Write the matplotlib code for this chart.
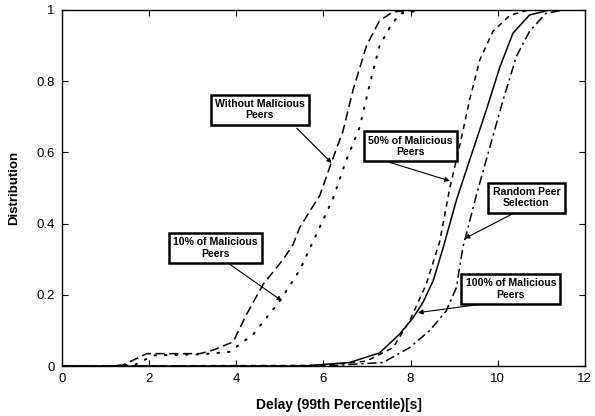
import matplotlib.pyplot as plt

plt.rcParams['font.family'] = ['Liberation Sans', 'DejaVu Sans']

# delay CDF curves (x in seconds, y = distribution)
no_mal_x = [0, 1.0, 1.4, 1.95, 3.17, 3.47, 3.93, 4.24, 4.62, 5.08, 5.3, 5.46, 5.92, 6.18, 6.45, 6.68, 6.99, 7.29, 7.6, 8.2, 12]
no_mal_y = [0, 0, 0.003, 0.035, 0.035, 0.045, 0.068, 0.146, 0.23, 0.30, 0.34, 0.39, 0.48, 0.57, 0.66, 0.775, 0.90, 0.97, 0.995, 1, 1]

mal10_x = [0, 1.2, 1.7, 2.1, 3.2, 3.85, 4.39, 5.0, 5.46, 5.84, 6.22, 6.5, 6.83, 7.06, 7.29, 7.52, 7.75, 8.3, 12]
mal10_y = [0, 0, 0.005, 0.03, 0.033, 0.04, 0.089, 0.183, 0.27, 0.37, 0.47, 0.57, 0.67, 0.79, 0.90, 0.95, 0.99, 1, 1]

mal50_x = [0, 6.0, 6.99, 7.6, 7.98, 8.36, 8.67, 8.9, 9.13, 9.36, 9.59, 9.89, 10.28, 10.7, 12]
mal50_y = [0, 0.002, 0.014, 0.052, 0.127, 0.23, 0.35, 0.50, 0.62, 0.75, 0.86, 0.94, 0.985, 1, 1]

mal100_x = [0, 5.5, 6.6, 7.29, 7.75, 8.06, 8.29, 8.52, 8.75, 9.05, 9.36, 9.74, 10.05, 10.35, 10.73, 11.2, 12]
mal100_y = [0, 0, 0.01, 0.037, 0.09, 0.136, 0.18, 0.24, 0.333, 0.465, 0.58, 0.72, 0.84, 0.935, 0.986, 1, 1]

rand_x = [0, 6.0, 7.37, 7.98, 8.44, 8.82, 9.05, 9.2, 9.51, 9.82, 10.12, 10.43, 10.73, 11.1, 11.5, 12]
rand_y = [0, 0, 0.01, 0.052, 0.10, 0.155, 0.22, 0.333, 0.48, 0.615, 0.746, 0.87, 0.94, 0.99, 1, 1]

# label text, box centre, arrow tip
notes = [
    ('Without Malicious\nPeers', (4.54, 0.72), (6.19, 0.57)),
    ('10% of Malicious\nPeers', (3.52, 0.332), (5.05, 0.183)),
    ('50% of Malicious\nPeers', (8.0, 0.617), (8.9, 0.52)),
    ('Random Peer\nSelection', (10.66, 0.473), (9.24, 0.358)),
    ('100% of Malicious\nPeers', (10.3, 0.217), (8.17, 0.15)),
]
arrow_tails = [(5.39, 0.668), (3.85, 0.286), (7.52, 0.572), (10.41, 0.432), (9.82, 0.177)]

fig = plt.figure(figsize=(5.95, 4.16), dpi=100)
ax = fig.add_axes([0.104, 0.12, 0.879, 0.856])

lw = 1.1
ax.plot(no_mal_x, no_mal_y, color='black', lw=lw, dashes=(6, 3))
ax.plot(mal10_x, mal10_y, color='black', lw=lw * 1.3, dashes=(0.8, 4.5), dash_capstyle='round')
ax.plot(mal50_x, mal50_y, color='black', lw=lw, dashes=(3.5, 3))
ax.plot(mal100_x, mal100_y, color='black', lw=lw)
ax.plot(rand_x, rand_y, color='black', lw=lw, dashes=(6, 2.5, 1.5, 2.5))

for (text, box, tip), tail in zip(notes, arrow_tails):
    ax.annotate('', xy=tip, xytext=tail,
                arrowprops=dict(arrowstyle='-|>', color='black', lw=0.8,
                                mutation_scale=7, shrinkA=0, shrinkB=0))
    ax.text(box[0], box[1], text, ha='center', va='center', fontsize=7.6,
            fontweight='bold', linespacing=1.2,
            bbox=dict(boxstyle='square,pad=0.4', fc='white', ec='black', lw=1.8))

ax.set_xlim(0, 12)
ax.set_ylim(0, 1)
ax.set_xticks([0, 2, 4, 6, 8, 10, 12])
ax.set_yticks([0, 0.2, 0.4, 0.6, 0.8, 1])
ax.set_yticklabels(['0', '0.2', '0.4', '0.6', '0.8', '1'])
ax.tick_params(direction='in', top=True, right=True, labelsize=9.5, length=4, width=0.8, pad=5)
for s in ax.spines.values():
    s.set_linewidth(1.0)

ax.set_xlabel('Delay (99th Percentile)[s]', fontsize=10, fontweight='bold')
ax.xaxis.set_label_coords(0.53, -0.09)
ax.set_ylabel('Distribution', fontsize=9.5, fontweight='bold')
ax.yaxis.set_label_coords(-0.08, 0.5)

plt.savefig('out.png', dpi=100)
